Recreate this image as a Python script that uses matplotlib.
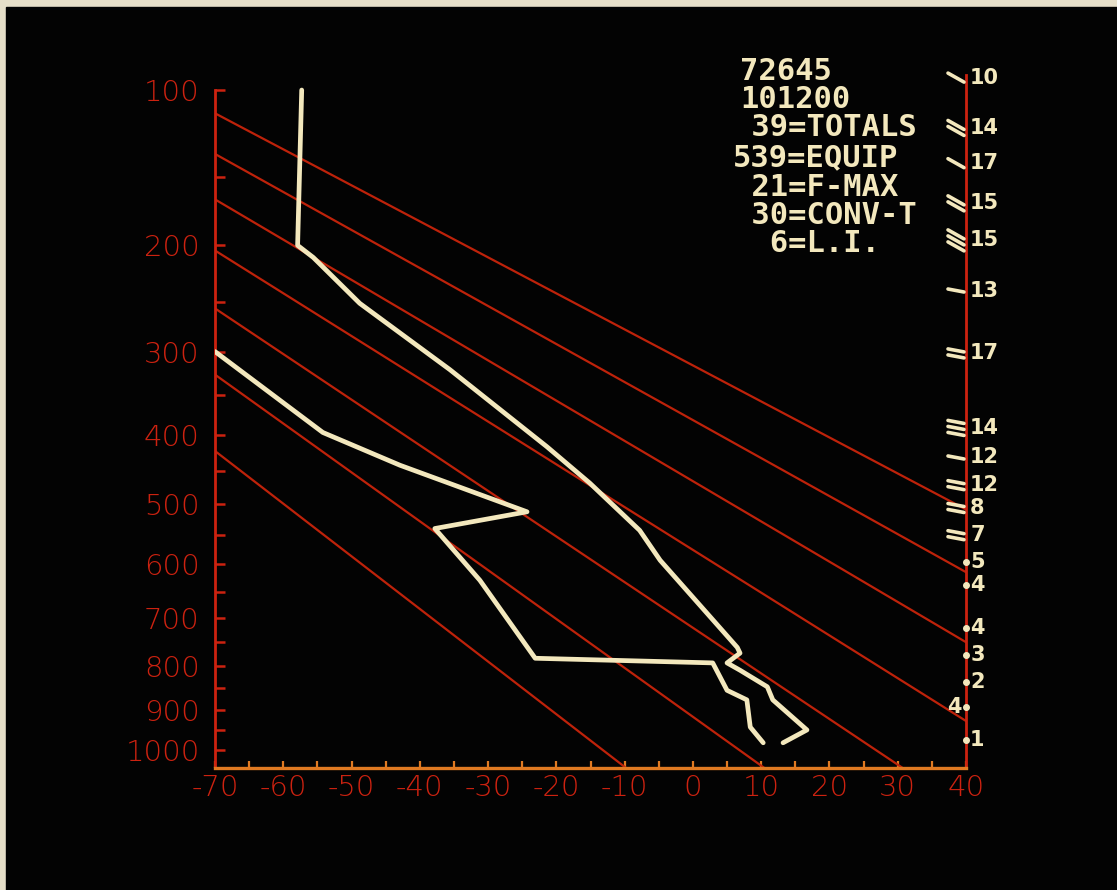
import numpy as np
import matplotlib
matplotlib.use("Agg")
import matplotlib.pyplot as plt
from matplotlib.patches import Rectangle
from matplotlib.lines import Line2D
from matplotlib.transforms import IdentityTransform
from matplotlib.ticker import NullFormatter

W, H = 1117, 890
KAPPA = 0.286

# sounding (deg C, mb)
temp_p = [100, 200, 210, 251, 320, 416, 468, 542, 593, 761, 773, 794, 810, 847, 877, 949, 981]
temp_t = [-57.3, -57.9, -55.6, -48.8, -35.6, -21.4, -15.1, -7.8, -4.8, 6.5, 6.9, 5.0, 6.9, 10.9, 11.7, 16.7, 13.2]

dew_p = [300, 397, 442, 512, 539, 629, 784, 794, 855, 877, 942, 981]
dew_t = [-70.0, -54.2, -42.9, -24.3, -37.8, -31.2, -23.1, 2.9, 5.0, 7.9, 8.4, 10.3]

# dry adiabats (K)
theta_lines = [260, 280, 300, 320, 340, 360, 380]

# winds along the right edge
wind_p = [94, 120, 141, 168, 196, 239, 302, 391, 431, 471, 506, 550, 596, 638, 721, 777, 836, 894, 975]
wind_kt = [10, 14, 17, 15, 15, 13, 17, 14, 12, 12, 8, 7, 5, 4, 4, 3, 2, 4, 1]
wind_strokes = [1, 2, 1, 2, 3, 1, 2, 3, 1, 2, 2, 2, 0, 0, 0, 0, 0, 0, 0]

# station block
station = "72645"
stamp = "101200"
index_names = ["TOTALS", "EQUIP", "F-MAX", "CONV-T", "L.I."]
index_values = [39, 539, 21, 30, 6]

p_major = [100, 200, 300, 400, 500, 600, 700, 800, 900, 1000]
p_minor = [150, 250, 350, 450, 550, 650, 750, 850, 950]
t_major = list(range(-70, 41, 10))
t_minor = list(range(-65, 40, 10))

RED = "#cc2210"
LINE_RED = "#be220a"
CREAM = "#f3e8bd"

fig = plt.figure(figsize=(W / 100, H / 100), dpi=100, facecolor="#e6dfc9")
fig.add_artist(Rectangle((6 / W, 0), (W - 6) / W, (H - 7) / H,
                         transform=fig.transFigure, color="#030303", zorder=0))

ax = fig.add_axes([215 / W, 122 / H, 751 / W, 699 / H])
ax.set_facecolor("none")
ax.set_yscale("function", functions=(lambda p: np.power(np.abs(p), KAPPA),
                                     lambda s: np.power(np.abs(s), 1 / KAPPA)))
ax.set_xlim(-70, 40)
ax.set_ylim(1046, 90)

p_line = np.linspace(90, 1046, 60)
for th in theta_lines:
    ax.plot(th * (p_line / 1000.0) ** KAPPA - 273.15, p_line, color=LINE_RED, lw=1.6, zorder=2)

ax.plot(temp_t, temp_p, color=CREAM, lw=3.4, solid_joinstyle="round", solid_capstyle="round", zorder=4)
ax.plot(dew_t, dew_p, color=CREAM, lw=3.4, solid_joinstyle="round", solid_capstyle="round", zorder=4)

# axes frame
ax.spines["top"].set_visible(False)
ax.spines["left"].set_bounds(100, 1046)
ax.spines["right"].set_bounds(93, 1046)
for s in ("left", "right"):
    ax.spines[s].set_color(RED)
    ax.spines[s].set_linewidth(2)
ax.spines["bottom"].set_color("#e07a22")
ax.spines["bottom"].set_linewidth(2.4)

ax.set_yticks(p_major, [str(p) for p in p_major])
ax.set_yticks(p_minor, minor=True)
ax.yaxis.set_minor_formatter(NullFormatter())
ax.set_xticks(t_major, [str(t) for t in t_major])
ax.set_xticks(t_minor, minor=True)
ax.xaxis.set_minor_formatter(NullFormatter())
ax.tick_params(axis="y", which="both", direction="in", length=7, width=1.8,
               color=RED, labelcolor=RED, labelsize=21, pad=11)
ax.tick_params(axis="x", which="both", direction="in", length=5, width=1.6,
               color="#e07a22", labelcolor=RED, labelsize=21, pad=4)
for lab in ax.get_xticklabels() + ax.get_yticklabels():
    lab.set_fontweight("light")

# wind marks on the right staff
for i, (p, kt, n) in enumerate(zip(wind_p, wind_kt, wind_strokes)):
    x0, y0 = ax.transData.transform((40, p))
    slope = 4.5 if i < 5 else 1.5
    for j in range(n):
        yc = y0 + ((n - 1) / 2 - j) * 6
        fig.add_artist(Line2D([x0 - 18, x0 - 2], [yc + slope, yc - slope],
                              transform=IdentityTransform(), color=CREAM, lw=2.6,
                              solid_capstyle="round", zorder=6))
    if n == 0:
        ax.plot(40, p, "o", ms=4, color=CREAM, clip_on=False, zorder=6)
    if i == 17:
        ax.annotate(str(kt), xy=(1, p), xycoords=("axes fraction", "data"), xytext=(-3, 0),
                    textcoords="offset points", ha="right", va="center",
                    color=CREAM, fontsize=15, fontweight="bold")
    else:
        ax.annotate(str(kt), xy=(1, p), xycoords=("axes fraction", "data"), xytext=(3, 0),
                    textcoords="offset points", ha="left", va="center",
                    color=CREAM, fontsize=15, fontweight="bold")

# text block, monospace like the terminal
mono = dict(family="DejaVu Sans Mono", weight="bold", size=22, color=CREAM, va="center", ha="left")
fig.text(740 / W, 1 - 72 / H, station, **mono)
fig.text(740 / W, 1 - 100 / H, stamp, **mono)
rows_y = [128, 158, 187, 215, 243]
for name, val, yy in zip(index_names, index_values, rows_y):
    fig.text(733 / W, 1 - yy / H, f"{val:>3d}={name}", **mono)

fig.savefig("out.png", dpi=100, facecolor=fig.get_facecolor())
